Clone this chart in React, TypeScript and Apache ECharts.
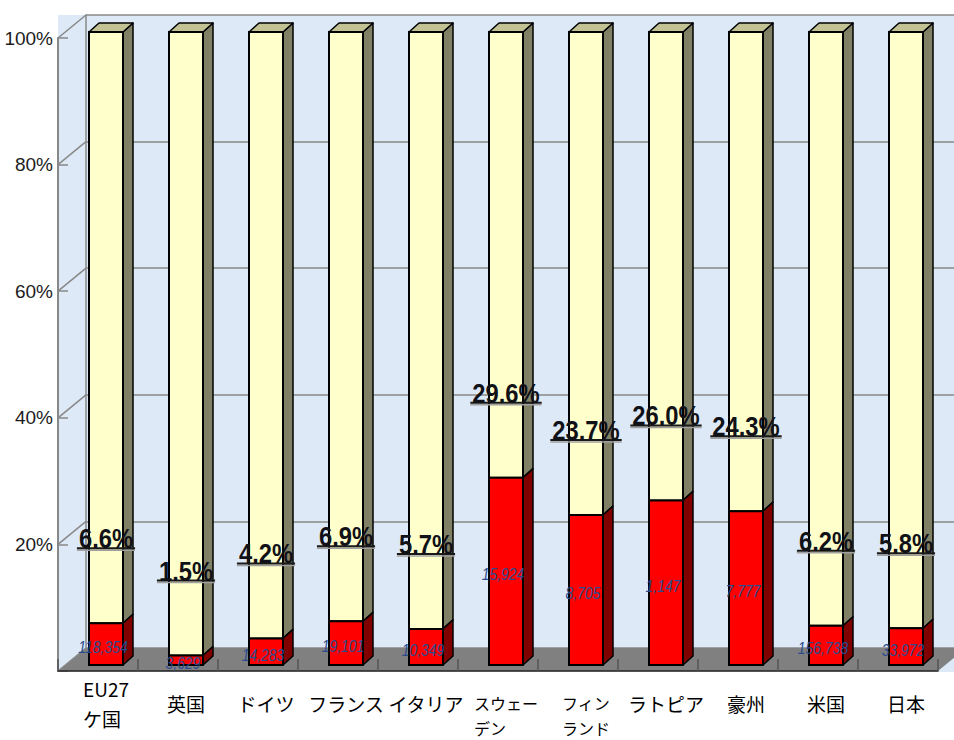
import React, { useEffect, useRef } from "react";
import * as echarts from "echarts";

// Data
const categories = ["EU27\nケ国", "英国", "ドイツ", "フランス", "イタリア", "スウェー\nデン", "フィン\nランド", "ラトピア", "豪州", "米国", "日本"];
const shares = [6.6, 1.5, 4.2, 6.9, 5.7, 29.6, 23.7, 26.0, 24.3, 6.2, 5.8];
const counts = [118354, 3629, 14283, 19101, 10349, 15924, 8705, 1147, 7777, 156738, 33972];
const yTicks = [0, 20, 40, 60, 80, 100];

// Layout and style
const FRONT = { left: 58, top: 38, right: 16, bottom: 69 };
const DEPTH = [28, -23];
const BAR_SHIFT = [8, -6];
const BAR_W = 34;
const BAR_DEPTH = [10, -9];
const LABEL_GAP = 75;
const SANS = '"Liberation Sans", Arial, sans-serif';
const CJK = '"Noto Sans CJK JP", "Noto Sans", sans-serif';
// two-line category labels: rich style tag and whether the block hangs below the axis-label line
const twoLineStyle: Record<string, { tag: string; hang: boolean }> = {
  "EU27\nケ国": { tag: "a", hang: false },
  "スウェー\nデン": { tag: "b", hang: true },
  "フィン\nランド": { tag: "b", hang: true },
};
const PCT_FONT = `bold 27px ${SANS}`;
const PCT_SCALE = 0.88;
const COUNT_SCALE = 0.82;

const measureCtx = document.createElement("canvas").getContext("2d")!;
function textWidth(text: string, font: string) {
  measureCtx.font = font;
  return measureCtx.measureText(text).width;
}

export default function App() {
  const ref = useRef<HTMLDivElement>(null);

  useEffect(() => {
    const chart = echarts.init(ref.current!, null, { renderer: "svg" });

    const option: any = {
      animation: false,
      backgroundColor: "#ffffff",
      graphic: {
        elements: [
          {
            type: "rect",
            z: -10,
            silent: true,
            shape: {
              x: FRONT.left,
              y: FRONT.top + DEPTH[1],
              width: 954 - FRONT.left,
              height: 740 - FRONT.bottom - (FRONT.top + DEPTH[1]) + 1,
            },
            style: { fill: "#dde9f6" },
          },
        ],
      },
      grid: [
        {
          left: FRONT.left,
          top: FRONT.top,
          right: FRONT.right,
          bottom: FRONT.bottom,
          containLabel: false,
          outerBoundsMode: "none",
        },
        {
          left: FRONT.left + DEPTH[0],
          top: FRONT.top + DEPTH[1],
          width: 954 - FRONT.left - FRONT.right,
          height: 740 - FRONT.top - FRONT.bottom,
          containLabel: false,
          outerBoundsMode: "none",
        },
      ],
      xAxis: [
        {
          type: "category",
          gridIndex: 0,
          data: categories,
          z: 4,
          axisLine: { lineStyle: { color: "#222", width: 1.5 } },
          axisTick: { show: true, inside: true, length: 12, lineStyle: { color: "#555", width: 1.5 } },
          axisLabel: {
            interval: 0,
            margin: 32,
            verticalAlign: "middle",
            padding: [0, 0, 0, 16],
            color: "#000",
            fontSize: 19,
            lineHeight: 26,
            fontFamily: CJK,
            formatter: (v: string) => {
              const st = twoLineStyle[v];
              if (!st) return v;
              const lines = v.split("\n").map((s) => `{${st.tag}|${s}}`);
              if (st.hang) lines.unshift(`{${st.tag}| }`);
              return lines.join("\n");
            },
            rich: {
              a: { align: "left", fontSize: 19, lineHeight: 30, fontFamily: CJK, color: "#000" },
              b: { align: "left", fontSize: 16, lineHeight: 25, fontFamily: CJK, color: "#000" },
            },
          },
        },
        { type: "category", gridIndex: 1, data: categories, show: false },
      ],
      yAxis: [
        {
          type: "value",
          gridIndex: 0,
          min: 0,
          max: 100,
          interval: 20,
          axisLine: { show: true, lineStyle: { color: "#888", width: 2 } },
          axisTick: { show: true, inside: true, length: 10, lineStyle: { color: "#888", width: 1.5 } },
          splitLine: { show: false },
          axisLabel: {
            margin: 5,
            padding: [18, 0, 0, 0],
            color: "#1c1c1c",
            fontSize: 19,
            fontFamily: SANS,
            formatter: (v: number) => (v === 0 ? "" : `${v}%`),
          },
        },
        {
          type: "value",
          gridIndex: 1,
          min: 0,
          max: 100,
          interval: 20,
          axisLine: { show: true, lineStyle: { color: "#888", width: 1.5 } },
          axisTick: { show: false },
          axisLabel: { show: false },
          splitLine: { show: true, lineStyle: { color: "#888", width: 1.5 } },
        },
      ],
      series: [
        {
          // floor
          type: "custom",
          xAxisIndex: 0,
          yAxisIndex: 0,
          z: 1,
          silent: true,
          data: [[0, 0]],
          renderItem: (params: any, api: any) => {
            const cs = params.coordSys;
            const yF = api.coord([0, 0])[1];
            const xL = cs.x;
            const xR = cs.x + cs.width;
            return {
              type: "polygon",
              shape: {
                points: [
                  [xL, yF],
                  [xR, yF],
                  [xR + DEPTH[0], yF + DEPTH[1]],
                  [xL + DEPTH[0], yF + DEPTH[1]],
                ],
              },
              style: { fill: "#808080" },
            };
          },
        },
        {
          // side wall grid lines
          type: "custom",
          xAxisIndex: 0,
          yAxisIndex: 0,
          z: 1,
          silent: true,
          data: yTicks.map((t) => [0, t]),
          renderItem: (params: any, api: any) => {
            const cs = params.coordSys;
            const y = api.coord([0, api.value(1)])[1];
            return {
              type: "line",
              shape: { x1: cs.x, y1: y, x2: cs.x + DEPTH[0], y2: y + DEPTH[1] },
              style: { stroke: "#888", lineWidth: 1.5 },
            };
          },
        },
        {
          // 3D stacked bars with labels
          type: "custom",
          xAxisIndex: 0,
          yAxisIndex: 0,
          z: 5,
          clip: false,
          data: shares.map((s, i) => [i, s, counts[i]]),
          renderItem: (params: any, api: any) => {
            const i = api.value(0);
            const v = api.value(1);
            const n = api.value(2);
            const base = api.coord([i, 0]);
            const mid = api.coord([i, v]);
            const top = api.coord([i, 100]);
            const cx = base[0] + BAR_SHIFT[0];
            const x0 = cx - BAR_W / 2;
            const x1 = cx + BAR_W / 2;
            const yb = base[1] + BAR_SHIFT[1];
            const yr = mid[1] + BAR_SHIFT[1];
            const yt = top[1] + BAR_SHIFT[1];
            const [dx, dy] = BAR_DEPTH;
            const side = (ya: number, yz: number, fill: string) => ({
              type: "polygon",
              shape: { points: [[x1, yz], [x1 + dx, yz + dy], [x1 + dx, ya + dy], [x1, ya]] },
              style: { fill, stroke: "#000", lineWidth: 1.5, lineJoin: "round" },
            });
            const pctText = `${v.toFixed(1)}%`;
            const tw = textWidth(pctText, PCT_FONT) * PCT_SCALE;
            const yu = yr - LABEL_GAP;
            const ym = (yr + yb) / 2 + 3;
            return {
              type: "group",
              children: [
                side(yt, yr, "#808066"),
                side(yr, yb, "#800000"),
                {
                  type: "polygon",
                  shape: { points: [[x0, yt], [x0 + dx, yt + dy], [x1 + dx, yt + dy], [x1, yt]] },
                  style: { fill: "#c2c295", stroke: "#000", lineWidth: 1.5, lineJoin: "round" },
                },
                {
                  type: "rect",
                  shape: { x: x0, y: yt, width: BAR_W, height: yr - yt },
                  style: { fill: "#ffffcc", stroke: "#000", lineWidth: 2 },
                },
                {
                  type: "rect",
                  shape: { x: x0, y: yr, width: BAR_W, height: yb - yr },
                  style: { fill: "#ff0000", stroke: "#000", lineWidth: 2 },
                },
                {
                  type: "text",
                  x: cx - 3,
                  y: ym,
                  scaleX: COUNT_SCALE,
                  style: {
                    text: Number(n).toLocaleString("en-US"),
                    textAlign: "center",
                    textVerticalAlign: "middle",
                    fontSize: 17,
                    fontStyle: "italic",
                    fontFamily: SANS,
                    fill: "#2a4c8e",
                  },
                },
                {
                  type: "line",
                  shape: { x1: cx - tw / 2 - 2, y1: yu + 2, x2: cx + tw / 2 + 2, y2: yu + 2 },
                  style: { stroke: "#a0a0a0", lineWidth: 1.5 },
                },
                {
                  type: "line",
                  shape: { x1: cx - tw / 2 - 2, y1: yu, x2: cx + tw / 2 + 2, y2: yu },
                  style: { stroke: "#1a1a1a", lineWidth: 2 },
                },
                {
                  type: "text",
                  x: cx,
                  y: yu + 4,
                  scaleX: PCT_SCALE,
                  style: {
                    text: pctText,
                    textAlign: "center",
                    textVerticalAlign: "bottom",
                    font: PCT_FONT,
                    fill: "#111118",
                  },
                },
              ],
            };
          },
        },
      ],
    };

    chart.setOption(option);
    return () => chart.dispose();
  }, []);

  return (
    <div
      ref={ref}
      style={{ position: "fixed", left: 0, top: 0, width: 954, height: 740, background: "#fff" }}
    />
  );
}
